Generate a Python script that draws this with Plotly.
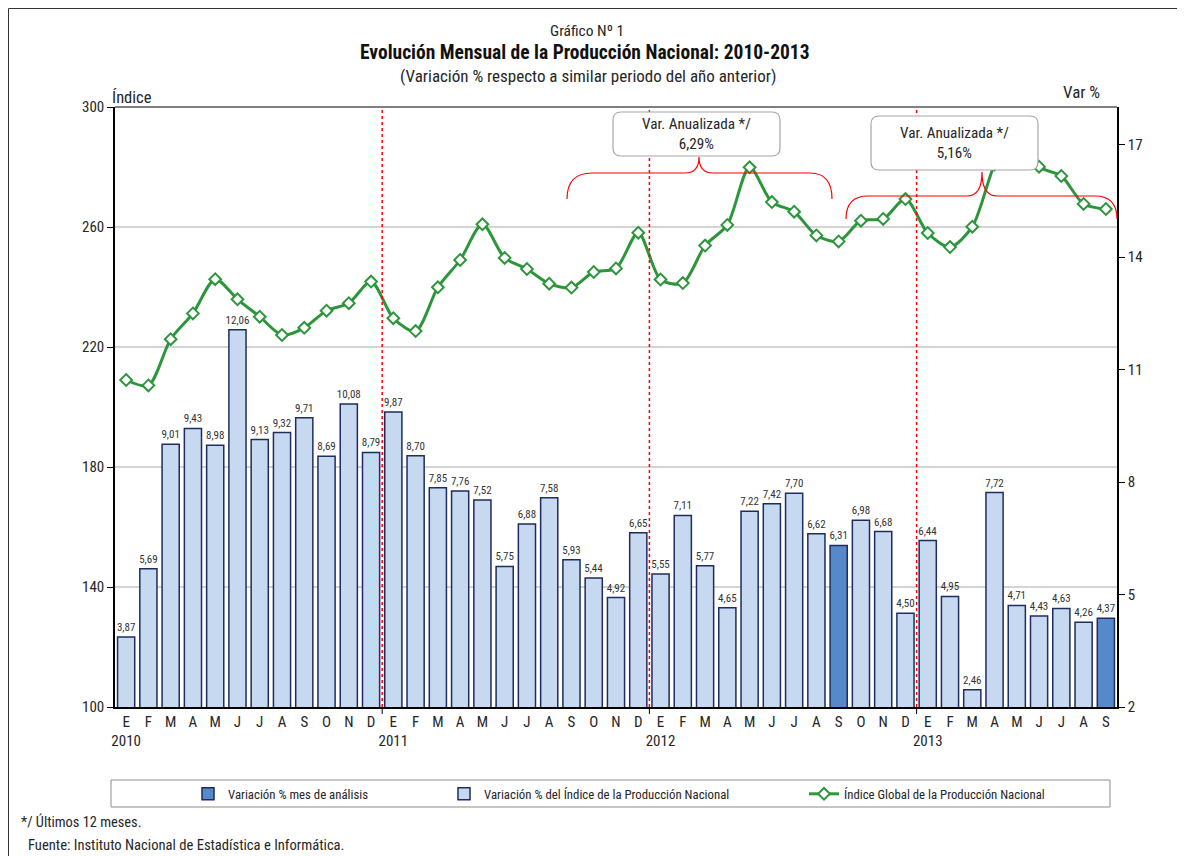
import plotly.graph_objects as go

# ---------------- data ----------------
months = ["E", "F", "M", "A", "M", "J", "J", "A", "S", "O", "N", "D"]
years = ["2010", "2011", "2012", "2013"]

var_pct = [
    3.87, 5.69, 9.01, 9.43, 8.98, 12.06, 9.13, 9.32, 9.71, 8.69, 10.08, 8.79,
    9.87, 8.70, 7.85, 7.76, 7.52, 5.75, 6.88, 7.58, 5.93, 5.44, 4.92, 6.65,
    5.55, 7.11, 5.77, 4.65, 7.22, 7.42, 7.70, 6.62, 6.31, 6.98, 6.68, 4.50,
    6.44, 4.95, 2.46, 7.72, 4.71, 4.43, 4.63, 4.26, 4.37,
]

indice = [
    209.0, 207.2, 222.6, 231.2, 242.6, 235.9, 230.1, 224.0, 226.4, 232.1, 234.6, 241.8,
    229.6, 225.3, 239.9, 249.0, 260.9, 249.7, 246.0, 241.1, 239.8, 245.0, 246.2, 258.1,
    242.5, 241.3, 253.8, 260.7, 279.9, 268.3, 265.1, 257.2, 255.2, 262.1, 262.7, 269.3,
    258.0, 253.3, 260.1, 280.8, 293.2, 280.1, 277.0, 267.7, 266.0,
]

highlight_idx = [32, 44]  # "mes de análisis" (Setiembre)

callout_texts = ["Var. Anualizada */<br>6,29%", "Var. Anualizada */<br>5,16%"]

left_ticks = [100, 140, 180, 220, 260, 300]
right_ticks = [2, 5, 8, 11, 14, 17]
year_boundaries = [11.5, 23.5, 35.5]

# ---------------- derived ----------------
n = len(var_pct)
xs = list(range(n))
tick_text = []
for i in xs:
    m = months[i % 12]
    if i % 12 == 0:
        tick_text.append(f"{m}<br>{years[i // 12]}")
    else:
        tick_text.append(m)

def fmt(v):
    return f"{v:.2f}".replace(".", ",")

light_vals = [None if i in highlight_idx else v for i, v in enumerate(var_pct)]
dark_vals = [v if i in highlight_idx else None for i, v in enumerate(var_pct)]
light_txt = [None if v is None else fmt(v) for v in light_vals]
dark_txt = [None if v is None else fmt(v) for v in dark_vals]

FONT = "Liberation Sans Narrow, Arial Narrow, Roboto Condensed, DejaVu Sans Condensed, Liberation Sans, sans-serif"
TXT = "#262626"

# page geometry (browser body margin offsets figure by 8px)
OFF = 8
FIG_W, FIG_H = 1185 - OFF, 856 - OFF
# plot-area in page pixels
L, R, T, B = 115, 1117, 107, 707
W, H = R - L, B - T

def px(X, Y):
    return (X - L) / W, (B - Y) / H

fig = go.Figure()

fig.add_trace(go.Bar(
    x=xs, y=dark_vals, name="Variación % mes de análisis",
    marker=dict(color="#5689C9", line=dict(color="#1F2D5C", width=1.5)),
    text=dark_txt, textposition="outside", textfont=dict(size=11, color="#333", family=FONT),
    constraintext="none", cliponaxis=False, yaxis="y", legend="legend",
))
fig.add_trace(go.Bar(
    x=xs, y=light_vals, name="Variación % del Índice de la Producción Nacional",
    marker=dict(color="#C6D9F1", line=dict(color="#1F2D5C", width=1.5)),
    text=light_txt, textposition="outside", textfont=dict(size=11, color="#333", family=FONT),
    constraintext="none", cliponaxis=False, yaxis="y", legend="legend2",
))
fig.add_trace(go.Scatter(
    x=xs, y=indice, name="Índice Global de la Producción Nacional",
    mode="lines+markers", yaxis="y2", legend="legend3",
    line=dict(color="#2D963C", width=3, shape="spline", smoothing=0.8),
    marker=dict(symbol="diamond", size=9, color="white", line=dict(color="#2D963C", width=2)),
))

shapes = []
# outer frame
x0, y0 = px(8.5, 8.5)
x1, y1 = px(1178, 880)
shapes.append(dict(type="rect", xref="paper", yref="paper", x0=x0, y0=y1, x1=x1, y1=y0,
                   line=dict(color="#333", width=1), fillcolor="rgba(0,0,0,0)", layer="below"))
# top border of plot
shapes.append(dict(type="line", xref="paper", yref="paper", x0=0, x1=1, y0=1, y1=1,
                   line=dict(color="#555", width=1.5)))
# year boundaries
for xb in year_boundaries:
    shapes.append(dict(type="line", xref="x", yref="paper", x0=xb, x1=xb, y0=0, y1=1,
                       line=dict(color="#FF0000", width=1.5, dash="dot"), layer="above"))
    shapes.append(dict(type="line", xref="x", yref="paper", x0=xb, x1=xb, y0=0, y1=-7 / H,
                       line=dict(color="black", width=1)))

def path_px(cmds):
    out = []
    for c in cmds:
        if isinstance(c, str):
            out.append(c)
        else:
            a, b = px(*c)
            out.append(f"{a:.5f},{b:.5f}")
    return " ".join(out)

# braces
brace1 = ["M", (567, 199), "Q", (567, 173), (592, 173), "L", (685, 173), "Q", (699, 173), (699, 157),
          "Q", (699, 173), (713, 173), "L", (810, 173), "Q", (832, 173), (832, 199)]
brace2 = ["M", (846, 219), "Q", (846, 196), (868, 196), "L", (967, 196), "Q", (982, 196), (982, 172),
          "Q", (982, 196), (997, 196), "L", (1095, 196), "Q", (1117, 196), (1117, 219)]
for br in (brace1, brace2):
    shapes.append(dict(type="path", xref="paper", yref="paper", path=path_px(br),
                       line=dict(color="#FF0000", width=1.2), layer="above"))

# rounded callout boxes
def rrect(xa, ya, xb, yb, r=8):
    return path_px(["M", (xa + r, ya), "L", (xb - r, ya), "Q", (xb, ya), (xb, ya + r),
                    "L", (xb, yb - r), "Q", (xb, yb), (xb - r, yb),
                    "L", (xa + r, yb), "Q", (xa, yb), (xa, yb - r),
                    "L", (xa, ya + r), "Q", (xa, ya), (xa + r, ya), "Z"])

boxes = [(613, 112, 780, 156), (871, 116, 1038, 170)]
for (xa, ya, xb, yb) in boxes:
    shapes.append(dict(type="path", xref="paper", yref="paper", path=rrect(xa, ya, xb, yb),
                       line=dict(color="#A6A6A6", width=1.2), fillcolor="white", layer="above"))

# legend box
lx0, ly0 = px(111, 780)
lx1, ly1 = px(1110, 807)
shapes.append(dict(type="rect", xref="paper", yref="paper", x0=lx0, y0=ly1, x1=lx1, y1=ly0,
                   line=dict(color="#8C8C8C", width=1), fillcolor="white", layer="below"))

annotations = []
def ann(text, X, Y, size, xanchor="center", bold=False, color=TXT):
    a, b = px(X, Y)
    t = f"<b>{text}</b>" if bold else text
    annotations.append(dict(text=t, x=a, y=b, xref="paper", yref="paper", showarrow=False,
                            xanchor=xanchor, yanchor="middle",
                            font=dict(size=size, family=FONT, color=color)))

ann("Gráfico Nº 1", 587, 31, 15.5)
ann("Evolución Mensual de la Producción Nacional: 2010-2013", 585, 53, 19.5, bold=True, color="#111")
ann("(Variación % respecto a similar periodo del año anterior)", 588, 76, 17)
ann("Índice", 110, 97, 16.5, xanchor="left")
ann("Var %", 1102, 92, 17, xanchor="right")
ann("*/ Últimos 12 meses.", 19, 822, 14.4, xanchor="left")
ann("Fuente: Instituto Nacional de Estadística e Informática.", 26, 845, 14.6, xanchor="left")
for (xa, ya, xb, yb), txt in zip(boxes, callout_texts):
    ann(txt, (xa + xb) / 2, (ya + yb) / 2, 15.2)

def leg(X):
    a, b = px(X, 794)
    return dict(x=a, y=b, xanchor="left", yanchor="middle", orientation="h",
                bgcolor="rgba(0,0,0,0)", borderwidth=0,
                font=dict(size=12.8, family=FONT, color=TXT))

fig.update_layout(
    width=FIG_W, height=FIG_H,
    margin=dict(l=L - OFF, r=FIG_W - (R - OFF), t=T - OFF, b=FIG_H - (B - OFF), autoexpand=False),
    paper_bgcolor="white", plot_bgcolor="white",
    barmode="overlay", bargap=0.23,
    font=dict(family=FONT, size=14, color=TXT),
    xaxis=dict(range=[-0.5, n - 0.5], tickvals=xs, ticktext=tick_text, ticks="",
               showline=True, linecolor="black", linewidth=1.5, showgrid=False, zeroline=False,
               tickfont=dict(size=15), fixedrange=True),
    yaxis=dict(side="right", range=[2, 18], tickvals=right_ticks, ticks="outside", ticklen=6,
               tickcolor="black", showline=True, linecolor="black", linewidth=1.5,
               showgrid=False, zeroline=False, tickfont=dict(size=15)),
    yaxis2=dict(overlaying="y", side="left", range=[100, 300], tickvals=left_ticks,
                ticks="outside", ticklen=6, tickcolor="black", showline=True, linecolor="black",
                linewidth=1.5, showgrid=True, gridcolor="#D4D4D4", gridwidth=1.5, zeroline=False,
                tickfont=dict(size=15)),
    legend=leg(188), legend2=leg(444), legend3=leg(804),
    showlegend=True,
    shapes=shapes, annotations=annotations,
)

fig.write_html("out.html")
